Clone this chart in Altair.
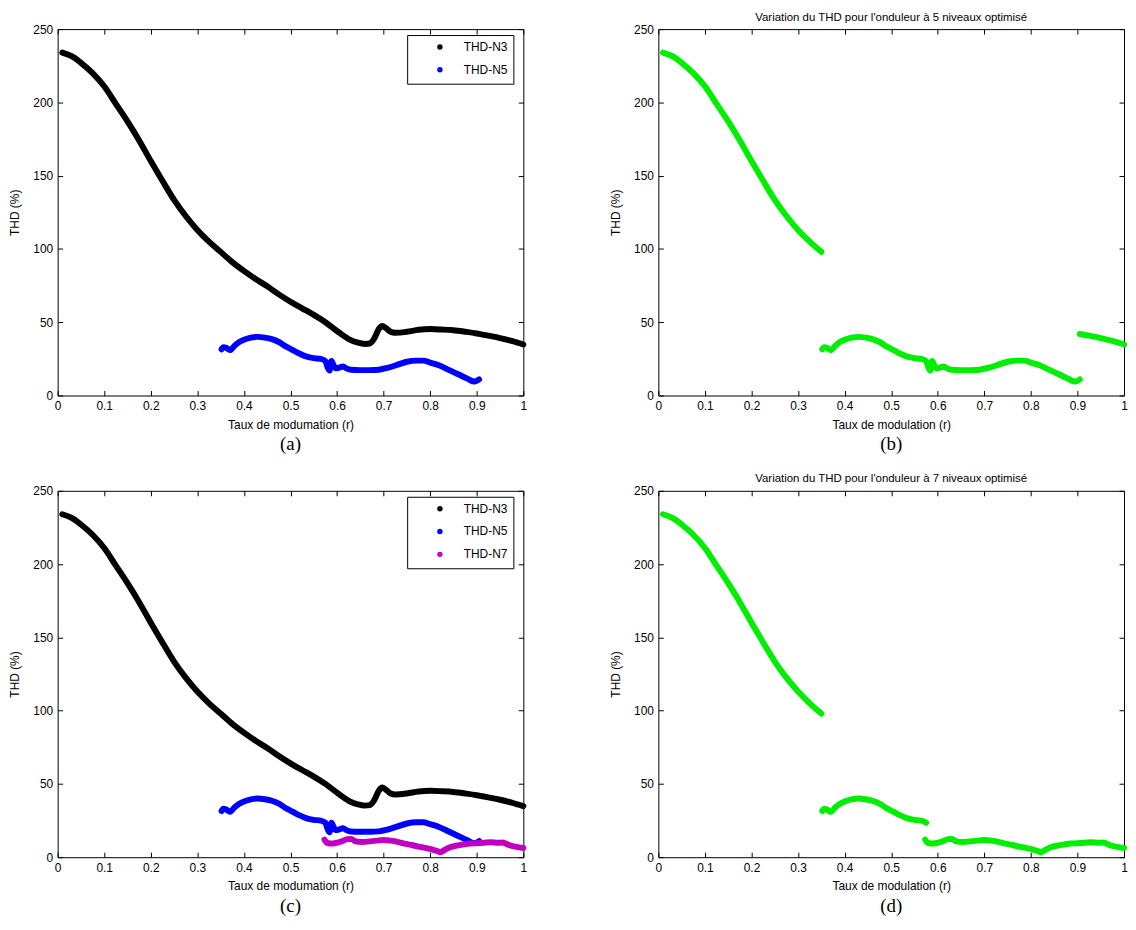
import altair as alt
import pandas as pd

# ---- data ----
r3 = [0.01, 0.03, 0.05, 0.075, 0.10, 0.125, 0.15, 0.175, 0.20, 0.225, 0.25, 0.275, 0.30, 0.325, 0.35,
      0.375, 0.40, 0.425, 0.45, 0.475, 0.50, 0.525, 0.55, 0.575, 0.60, 0.625, 0.645, 0.66, 0.67, 0.68,
      0.69, 0.697, 0.705, 0.715, 0.725, 0.75, 0.775, 0.80, 0.825, 0.85, 0.875, 0.90, 0.905, 0.925, 0.95,
      0.975, 1.0]
v3 = [234, 231.5, 227, 220, 211, 199, 187, 174, 160, 146.5, 133.5, 122.5, 113, 105, 98,
      91, 85, 79.5, 74.5, 69, 64, 59.5, 55, 50, 44, 38.5, 36, 35.2, 35.5, 39,
      45.5, 47.5, 46, 43.5, 42.8, 43.5, 44.8, 45.3, 45, 44.5, 43.5, 42.3, 42, 40.8, 39.2,
      37.2, 34.8]

r5 = [0.352, 0.356, 0.362, 0.37, 0.38, 0.39, 0.40, 0.415, 0.43, 0.445, 0.46, 0.475, 0.49, 0.505, 0.52,
      0.535, 0.55, 0.565, 0.575, 0.58, 0.584, 0.588, 0.592, 0.597, 0.605, 0.613, 0.62, 0.63, 0.65, 0.67,
      0.69, 0.71, 0.73, 0.75, 0.77, 0.785, 0.80, 0.82, 0.84, 0.86, 0.88, 0.895, 0.905]
v5 = [31.5, 33, 32.5, 31, 34, 36.5, 38, 39.5, 40, 39.5, 38.5, 36.5, 33.5, 31, 28.5,
      26.5, 25.5, 25, 23.5, 19, 17, 23.5, 21, 18.5, 19, 19.8, 18.5, 17.5, 17.3, 17.3,
      17.6, 19, 21, 23, 23.8, 23.8, 22.5, 20.5, 17.5, 14.5, 11.5, 9.5, 11]

r7 = [0.573, 0.578, 0.585, 0.595, 0.61, 0.622, 0.63, 0.64, 0.655, 0.67, 0.685, 0.70, 0.715, 0.73, 0.745,
      0.76, 0.775, 0.79, 0.805, 0.815, 0.822, 0.83, 0.84, 0.855, 0.87, 0.885, 0.90, 0.915, 0.93, 0.945,
      0.955, 0.97, 0.985, 1.0]
v7 = [12, 9.8, 9.3, 9.5, 10.8, 12.3, 12.5, 10.8, 10.3, 10.8, 11.3, 11.8, 11.3, 10.5, 9.3,
      8.3, 7.2, 6.3, 5.2, 4.2, 3.4, 4.8, 6.5, 7.8, 8.6, 9.3, 9.5, 9.8, 10.2, 9.8,
      10, 8.2, 7, 6.3]

series_names = ["THD-N3", "THD-N5", "THD-N7"]
series_colors = ["#000000", "#0000ff", "#c000c0"]
green = "#00ee00"

x_ticks = [0, 0.1, 0.2, 0.3, 0.4, 0.5, 0.6, 0.7, 0.8, 0.9, 1.0]
y_ticks = [0, 50, 100, 150, 200, 250]

# switching points of the optimised inverters
b_split = [0.35, 0.905]   # 5 levels: N3 | N5 | N3
d_split = [0.35, 0.575]   # 7 levels: N3 | N5 | N7

titles = ["Variation du THD pour l'onduleur à 5 niveaux optimisé",
          "Variation du THD pour l'onduleur à 7 niveaux optimisé"]
xtitle_ac = "Taux de modumation (r)"
xtitle_bd = "Taux de modulation (r)"
captions = ["(a)", "(b)", "(c)", "(d)"]

# ---- tables ----
def ser(r, v, name, seg=None):
    return pd.DataFrame({"r": r, "thd": v, "series": name, "seg": seg or name})

d3 = ser(r3, v3, "THD-N3")
d5 = ser(r5, v5, "THD-N5")
d7 = ser(r7, v7, "THD-N7")

df_a = pd.concat([d3, d5], ignore_index=True)
df_c = pd.concat([d3, d5, d7], ignore_index=True)
df_b = pd.concat([
    d3[d3.r <= b_split[0]].assign(seg="s1"),
    d5.assign(seg="s2"),
    d3[d3.r >= b_split[1]].assign(seg="s3"),
], ignore_index=True)
df_d = pd.concat([
    d3[d3.r <= d_split[0]].assign(seg="s1"),
    d5[d5.r <= d_split[1]].assign(seg="s2"),
    d7.assign(seg="s3"),
], ignore_index=True)

W, H = 469, 369
FONT = "Liberation Sans"

xs = alt.Scale(domain=[0, 1], nice=False, zero=False)
ys = alt.Scale(domain=[0, 250], nice=False)

def panel(df, title, xtitle, caption, n_series=0):
    ax_b = alt.Axis(orient="bottom", values=x_ticks, format="~g", domain=False, grid=False,
                    tickSize=5, offset=-5, labelPadding=5, titlePadding=8, labelFlush=False,
                    labelOverlap=False, title=xtitle)
    ax_l = alt.Axis(orient="left", values=y_ticks, domain=False, grid=False, tickSize=5,
                    offset=-5, labelPadding=5, titlePadding=11, title="THD (%)")
    ax_t = alt.Axis(orient="top", values=x_ticks, domain=False, grid=False, tickSize=5,
                    offset=-5, labels=False, title=None)
    ax_r = alt.Axis(orient="right", values=y_ticks, domain=False, grid=False, tickSize=5,
                    offset=-5, labels=False, title=None)
    if n_series:
        color = alt.Color("series:N",
                          scale=alt.Scale(domain=series_names[:n_series], range=series_colors[:n_series]),
                          legend=alt.Legend(title=None, orient="none", legendX=352, legendY=6,
                                            strokeColor="black", fillColor="white", padding=6,
                                            symbolType="circle", symbolSize=6, symbolStrokeWidth=3,
                                            symbolOffset=21, labelOffset=18, labelFont=FONT,
                                            labelFontSize=12, labelColor="black", rowPadding=7))
    else:
        color = alt.value(green)
    lines = alt.Chart(df).mark_line(strokeWidth=6, strokeCap="round", strokeJoin="round",
                                    interpolate="monotone").encode(
        x=alt.X("r:Q", scale=xs, axis=ax_b),
        y=alt.Y("thd:Q", scale=ys, axis=ax_l),
        color=color,
        detail="seg:N",
    )
    mirror = alt.Chart(df).mark_point(opacity=0, size=1).encode(
        x=alt.X("r:Q", scale=xs, axis=ax_t),
        y=alt.Y("thd:Q", scale=ys, axis=ax_r),
    )
    cap = alt.Chart(pd.DataFrame({"cap": [caption]})).mark_text(
        font="Liberation Serif", fontSize=19, baseline="middle", align="center", color="black"
    ).encode(x=alt.value(W / 2), y=alt.value(H + 49), text="cap:N")
    return alt.layer(lines, mirror, cap).resolve_axis(x="independent", y="independent").properties(
        width=W, height=H,
        title=alt.TitleParams(title, font=FONT, fontSize=11.5, fontWeight="normal", color="black",
                              anchor="middle", frame="group", offset=0),
    )

pa = panel(df_a, " ", xtitle_ac, captions[0], 2)
pb = panel(df_b, titles[0], xtitle_bd, captions[1])
pc = panel(df_c, " ", xtitle_ac, captions[2], 3)
pd_ = panel(df_d, titles[1], xtitle_bd, captions[3])

row1 = alt.hconcat(pa, pb, spacing=82).resolve_scale(color="independent")
row2 = alt.hconcat(pc, pd_, spacing=82).resolve_scale(color="independent")

chart = alt.vconcat(row1, row2, spacing=18).resolve_scale(color="independent").properties(
    padding=0, background="white"
).configure_axis(
    labelFont=FONT, labelFontSize=12, labelColor="black", titleFont=FONT, titleFontSize=12,
    titleFontWeight="normal", titleColor="black", tickColor="black", tickWidth=1,
).configure_view(stroke="black", strokeWidth=1)

chart.save("out.html", embed_options={"renderer": "svg", "actions": False})
